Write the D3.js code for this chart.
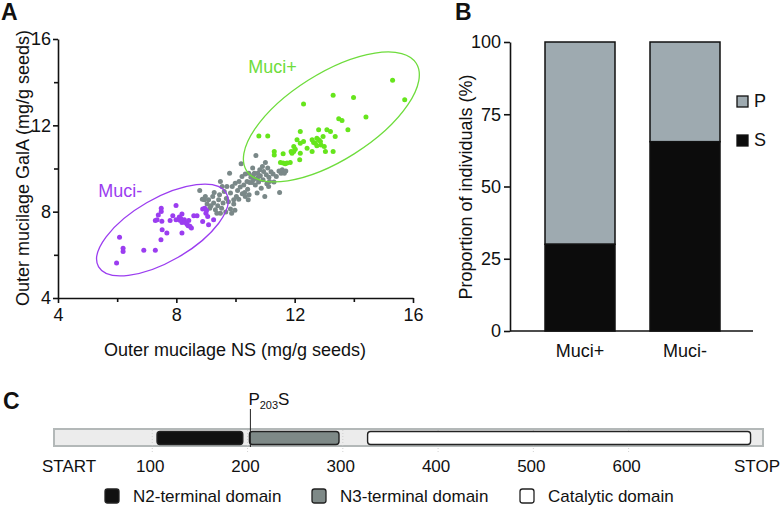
<!DOCTYPE html>
<html><head><meta charset="utf-8">
<script src="https://cdn.jsdelivr.net/npm/d3@7"></script>
<style>
body{margin:0;background:#fff}
svg{display:block;font-family:"Liberation Sans",Arial,Helvetica,sans-serif}
</style>
</head><body>
<svg id="chart" width="783" height="508"></svg>
<script>
// ---------- Panel A data ----------
const mucMinusX=[5.98,6.08,6.20,6.20,6.90,7.29,7.29,7.48,7.52,7.49,7.49,7.39,7.51,7.68,7.79,7.88,7.99,7.99,8.10,8.19,8.19,8.19,8.27,8.36,8.42,8.46,8.51,8.59,8.70,8.89,8.89,8.96,9.00,9.09,9.06,9.26,7.35,8.15,8.30,8.40,9.02,8.12];
const mucMinusY=[5.62,6.81,6.31,6.16,6.21,6.21,7.59,6.70,7.16,8.16,8.01,7.84,7.56,7.01,7.59,7.81,8.29,7.62,7.75,7.89,7.50,7.01,7.62,7.42,7.59,7.32,7.24,7.81,7.81,7.55,8.12,8.16,7.93,7.39,7.78,7.62,7.62,7.68,7.50,7.35,8.05,7.60];
const otherX=[8.79,8.95,8.88,9.04,9.26,9.13,9.32,9.40,9.43,9.28,9.49,9.55,9.62,9.58,9.69,9.76,9.80,9.83,9.89,9.94,9.98,10.03,10.07,10.12,10.16,10.19,10.23,10.28,10.33,10.39,10.41,10.46,10.48,10.52,10.56,10.58,10.64,10.67,10.69,10.73,10.75,10.78,10.82,10.84,10.87,10.91,10.93,10.95,10.99,11.01,11.04,11.06,11.09,11.13,11.15,11.20,11.27,11.30,11.38,11.47,11.49,11.54,11.58,11.65,11.70,9.94,10.11,10.31,10.61,10.43,9.87,9.83,9.67,9.49,9.37,9.23,9.09,8.98,9.71,9.99,10.22,10.45,10.61,10.78,10.33,11.12,10.73,9.46,9.17,9.53];
const otherY=[8.98,8.55,8.58,8.36,8.40,8.16,8.09,8.27,8.55,8.89,9.40,9.17,8.94,8.40,8.61,8.46,9.78,8.86,9.17,8.55,8.06,8.70,8.98,9.40,9.14,10.22,8.83,9.23,9.75,9.40,9.04,8.78,9.35,9.60,9.35,10.02,9.78,9.23,10.60,9.54,9.78,9.38,9.94,9.66,9.09,10.09,9.48,9.86,8.70,10.28,9.71,9.29,10.02,9.60,9.40,9.85,9.75,9.38,9.63,9.88,8.89,9.78,9.94,9.78,9.88,8.36,8.58,8.89,9.48,8.55,7.93,8.12,7.99,7.93,7.93,8.70,8.55,8.70,9.17,9.32,9.63,9.78,9.71,9.63,8.70,9.17,8.86,8.78,8.27,8.16];
const mucPlusX=[15.31,15.72,13.30,13.99,12.30,14.41,13.49,13.60,13.80,10.79,11.09,12.19,12.81,13.09,13.21,13.37,12.08,12.19,12.30,11.97,12.59,12.64,12.70,12.75,12.81,12.87,12.89,12.96,13.00,13.04,13.30,11.31,11.31,11.61,11.91,11.97,12.17,11.85,11.74,11.68,11.61,11.52,11.88,12.02,12.59,12.75,12.42,12.19];
const mucPlusY=[14.09,13.19,13.39,13.29,12.99,12.39,12.31,12.22,11.80,11.51,11.51,11.71,11.79,11.79,11.71,11.48,11.33,11.17,11.25,11.02,11.33,11.20,11.17,11.40,11.33,11.25,11.09,11.48,11.02,10.79,10.79,10.79,10.63,10.68,10.71,10.79,10.40,10.28,10.25,10.22,10.25,10.28,10.79,10.89,10.79,11.05,10.94,10.71];
const axisTicksA=[4,8,12,16];
const minorTicksA=[6,10,14];
const groupLabels=["Muci+","Muci-"];
// ellipse centres (data units)
const ellipseCentersX=[13.24,7.53];
const ellipseCentersY=[12.39,7.15];

// ---------- Panel B data ----------
const barCategories=["Muci+","Muci-"];
const percentS=[30,65.5];
const percentP=[70,34.5];
const ticksB=[0,25,50,75,100];
const legendB=["P","S"];

// ---------- Panel C data ----------
const proteinLength=740;
const domainNames=["N2-terminal domain","N3-terminal domain","Catalytic domain"];
const domainStart=[105,202,326];
const domainEnd=[195,296,728];
const positionTicks=[100,200,300,400,500,600];
const mutationPos=203;

const svg=d3.select("#chart");
const FS=18;

// ================= Panel A =================
const xA=d3.scaleLinear().domain([4,16]).range([58,413]);
const yA=d3.scaleLinear().domain([4,16]).range([298,39]);
const gA=svg.append("g");

function styleAxis(g){
  g.selectAll("path.domain").attr("stroke","#111").attr("stroke-width",1.6);
  g.selectAll(".tick line").attr("stroke","#111").attr("stroke-width",1.6);
  g.selectAll(".tick text").attr("font-size",FS).attr("fill","#111").attr("font-family","Liberation Sans, Arial, sans-serif");
}
const gxA=gA.append("g").attr("transform","translate(0,298)")
  .call(d3.axisBottom(xA).tickValues(axisTicksA).tickSize(5).tickPadding(5).tickSizeOuter(0).tickFormat(d3.format("d")));
styleAxis(gxA);
gA.append("g").attr("transform","translate(0,298)")
  .call(d3.axisBottom(xA).tickValues(minorTicksA).tickSize(4).tickFormat("")).call(g=>{g.select(".domain").remove();styleAxis(g);});
const gyA=gA.append("g").attr("transform","translate(58,0)")
  .call(d3.axisLeft(yA).tickValues(axisTicksA).tickSize(5).tickPadding(2).tickSizeOuter(0).tickFormat(d3.format("d")));
styleAxis(gyA);
gA.append("g").attr("transform","translate(58,0)")
  .call(d3.axisLeft(yA).tickValues(minorTicksA).tickSize(4).tickFormat("")).call(g=>{g.select(".domain").remove();styleAxis(g);});

gA.append("text").attr("x",235).attr("y",356).attr("text-anchor","middle").attr("font-size",FS).attr("fill","#111")
  .text("Outer mucilage NS (mg/g seeds)");
gA.append("text").attr("transform","translate(29,168) rotate(-90)").attr("text-anchor","middle").attr("font-size",FS).attr("fill","#111")
  .text("Outer mucilage GalA (mg/g seeds)");

const groups=[
  {x:otherX,y:otherY,c:"#7a8888"},
  {x:mucMinusX,y:mucMinusY,c:"#9b3df0"},
  {x:mucPlusX,y:mucPlusY,c:"#66e51c"}
];
groups.forEach(gr=>{
  gA.append("g").selectAll("circle").data(d3.range(gr.x.length)).join("circle")
    .attr("cx",i=>xA(gr.x[i])).attr("cy",i=>yA(gr.y[i])).attr("r",2.5).attr("fill",gr.c);
});
// ellipses
const ellCols=["#6edc3c","#9b3df0"];
const ellA=[100.4,73.7], ellB=[43.4,31.5], ellRot=[-32.3,-30];
ellipseCentersX.forEach((cx,i)=>{
  gA.append("ellipse").attr("transform",`translate(${xA(cx)},${yA(ellipseCentersY[i])}) rotate(${ellRot[i]})`)
    .attr("rx",ellA[i]).attr("ry",ellB[i]).attr("fill","none").attr("stroke",ellCols[i]).attr("stroke-width",1.3);
});
gA.append("text").attr("x",xA(10.43)).attr("y",yA(14.42)).attr("font-size",FS).attr("fill","#6edc3c").text(groupLabels[0]);
gA.append("text").attr("x",xA(5.36)).attr("y",yA(8.68)).attr("font-size",FS).attr("fill","#9b3df0").text(groupLabels[1]);

// ================= Panel B =================
const xB=d3.scaleBand().domain(barCategories).range([510,755]).paddingInner(1/3).paddingOuter(1/3);
const yB=d3.scaleLinear().domain([0,100]).range([331,42]);
const gB=svg.append("g");
const gyB=gB.append("g").attr("transform","translate(510,0)")
  .call(d3.axisLeft(yB).tickValues(ticksB).tickSize(6).tickPadding(3).tickSizeOuter(0));
styleAxis(gyB);
gB.append("line").attr("x1",510).attr("x2",753).attr("y1",yB(0)).attr("y2",yB(0)).attr("stroke","#111").attr("stroke-width",1.6);
barCategories.forEach((c,i)=>{
  gB.append("rect").attr("x",xB(c)).attr("width",xB.bandwidth()).attr("y",yB(100)).attr("height",yB(percentS[i])-yB(100))
    .attr("fill","#9eaab0").attr("stroke","#111").attr("stroke-width",1.5);
  gB.append("rect").attr("x",xB(c)).attr("width",xB.bandwidth()).attr("y",yB(percentS[i])).attr("height",yB(0)-yB(percentS[i]))
    .attr("fill","#0c0c0c").attr("stroke","#111").attr("stroke-width",1.5);
  gB.append("text").attr("x",xB(c)+xB.bandwidth()/2).attr("y",357).attr("text-anchor","middle").attr("font-size",FS).attr("fill","#111").text(c);
});
gB.append("text").attr("transform","translate(472,187) rotate(-90)").attr("text-anchor","middle").attr("font-size",FS).attr("fill","#111")
  .text("Proportion of individuals (%)");
const legCols=["#9eaab0","#0c0c0c"];
legendB.forEach((l,i)=>{
  const y0=96+i*39;
  gB.append("rect").attr("x",737).attr("y",y0).attr("width",11).attr("height",11).attr("fill",legCols[i]).attr("stroke","#111").attr("stroke-width",1.3);
  gB.append("text").attr("x",754).attr("y",y0+11).attr("font-size",FS).attr("fill","#111").text(l);
});

// panel letters
svg.append("text").attr("x",1).attr("y",20).attr("font-size",23).attr("font-weight","bold").attr("fill","#111").text("A");
svg.append("text").attr("x",455).attr("y",20).attr("font-size",23).attr("font-weight","bold").attr("fill","#111").text("B");
svg.append("text").attr("x",3).attr("y",409).attr("font-size",23).attr("font-weight","bold").attr("fill","#111").text("C");

// ================= Panel C =================
const xC=d3.scaleLinear().domain([0,proteinLength]).range([57,762]);
const gC=svg.append("g");
gC.append("rect").attr("x",xC(0)-3).attr("y",429).attr("width",xC(proteinLength)-xC(0)+4).attr("height",17)
  .attr("fill","#ececec").attr("stroke","#b3b8b8").attr("stroke-width",2);
gC.selectAll("line.grid").data(positionTicks).join("line").attr("class","grid")
  .attr("x1",d=>xC(d)).attr("x2",d=>xC(d)).attr("y1",430).attr("y2",453)
  .attr("stroke","#c8c8c8").attr("stroke-width",0.8).attr("stroke-dasharray","1,2");
const domFill=["#111111","#7e8987","#ffffff"];
domainNames.forEach((n,i)=>{
  gC.append("rect").attr("x",xC(domainStart[i])).attr("y",431.5).attr("width",xC(domainEnd[i])-xC(domainStart[i])).attr("height",13)
    .attr("rx",3).attr("fill",domFill[i]).attr("stroke","#222").attr("stroke-width",1.4);
});
gC.append("line").attr("x1",xC(mutationPos)).attr("x2",xC(mutationPos)).attr("y1",409).attr("y2",447).attr("stroke","#222").attr("stroke-width",1);
const mut=gC.append("text").attr("x",xC(mutationPos)-2).attr("y",405).attr("font-size",17).attr("fill","#111");
mut.append("tspan").text("P");
mut.append("tspan").attr("font-size",11).attr("dy",4).text(String(mutationPos));
mut.append("tspan").attr("dy",-4).text("S");

gC.append("text").attr("x",xC(0)-15).attr("y",472).attr("font-size",17).attr("fill","#111").text("START");
gC.append("text").attr("x",780).attr("y",472).attr("text-anchor","end").attr("font-size",17).attr("fill","#111").text("STOP");
gC.selectAll("text.pt").data(positionTicks).join("text").attr("class","pt")
  .attr("x",d=>xC(d)-2).attr("y",472).attr("text-anchor","middle").attr("font-size",17).attr("fill","#111").text(d=>d);

const legX=[105,312,520];
domainNames.forEach((n,i)=>{
  gC.append("rect").attr("x",legX[i]).attr("y",489).attr("width",14).attr("height",14).attr("rx",2.5)
    .attr("fill",domFill[i]).attr("stroke","#222").attr("stroke-width",1.3);
  gC.append("text").attr("x",legX[i]+28).attr("y",502).attr("font-size",17).attr("fill","#111").text(n);
});
</script>
</body></html>
